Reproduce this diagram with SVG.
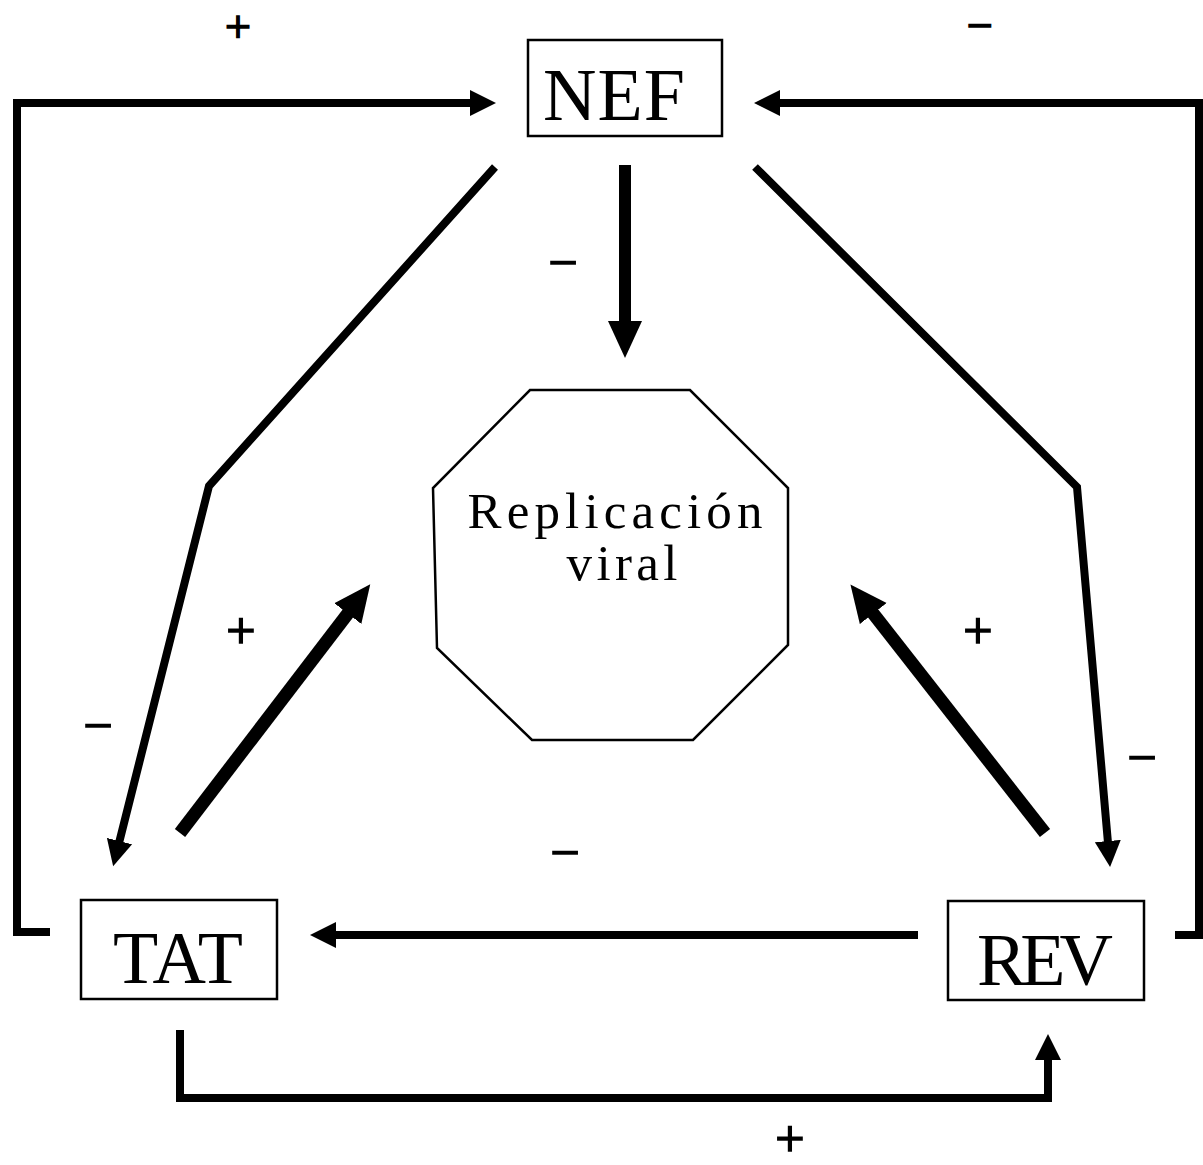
<svg xmlns="http://www.w3.org/2000/svg" width="1203" height="1165" viewBox="0 0 1203 1165">
<style>
.box{fill:#fff;stroke:#000;stroke-width:2.5}
.lbl{font-family:"Liberation Serif","Times New Roman",serif;fill:#000}
.big{font-size:74px}
.mid{font-size:51px}
.sign{font-size:52px;text-anchor:middle;stroke:#000;stroke-width:1.6}
.top{font-size:46px}
.c{fill:none;stroke:#000;stroke-linejoin:miter;stroke-linecap:butt}
.thin{stroke-width:8;marker-end:url(#ah)}
.thick{stroke-width:13;marker-end:url(#ahb)}
</style>
<defs>
<marker id="ah" markerUnits="userSpaceOnUse" viewBox="0 -14 28 28" refX="2" refY="0" markerWidth="28" markerHeight="28" orient="auto">
<path d="M0,-13 L26,0 L0,13 z" fill="#000"/>
</marker>
<marker id="ahb" markerUnits="userSpaceOnUse" viewBox="0 -18 38 36" refX="2" refY="0" markerWidth="38" markerHeight="36" orient="auto">
<path d="M0,-17 L37,0 L0,17 z" fill="#000"/>
</marker>
</defs>
<rect width="1203" height="1165" fill="#fff"/>
<g id="connectors">
<path class="c thin" d="M50,932 H17 V103 H472"/>
<path class="c thin" d="M1175,935 H1199 V103 H778"/>
<path class="c thin" d="M495,167 L209,486 L119,843"/>
<path class="c thin" d="M755,167 L1077,487 L1108,843"/>
<path class="c" style="stroke-width:12;marker-end:url(#ahb)" d="M625,165 V323"/>
<path class="c thick" d="M180,833 L349,612"/>
<path class="c thick" d="M1045,833 L872,612"/>
<path class="c thin" d="M918,935 H334"/>
<path class="c thin" d="M180,1030 V1098 H1048 V1058"/>
</g>
<g id="node-nef">
<rect class="box" x="528" y="40" width="194" height="96"/>
<text class="lbl big" x="614" y="120" text-anchor="middle" textLength="142">NEF</text>
</g>
<g id="node-tat">
<rect class="box" x="81" y="900" width="196" height="99"/>
<text class="lbl big" x="178" y="983" text-anchor="middle" textLength="130">TAT</text>
</g>
<g id="node-rev">
<rect class="box" x="948" y="901" width="196" height="99"/>
<text class="lbl big" x="1045" y="985" text-anchor="middle" textLength="136">REV</text>
</g>
<g id="node-replicacion">
<polygon class="box" points="530,390 690,390 788,488 788,645 693,740 532,740 437,648 433,488"/>
<text class="lbl mid" x="615" y="528" text-anchor="middle" textLength="295">Replicación</text>
<text class="lbl mid" x="622" y="580" text-anchor="middle" textLength="111">viral</text>
</g>
<g id="labels">
<text class="lbl sign top" x="238" y="42">+</text>
<text class="lbl sign top" x="980" y="41">−</text>
<text class="lbl sign" x="563" y="280">−</text>
<text class="lbl sign" x="241" y="648">+</text>
<text class="lbl sign" x="98" y="743">−</text>
<text class="lbl sign" x="978" y="648">+</text>
<text class="lbl sign" x="1142" y="775">−</text>
<text class="lbl sign" x="565" y="870">−</text>
<text class="lbl sign" x="790" y="1156">+</text>
</g>
</svg>
